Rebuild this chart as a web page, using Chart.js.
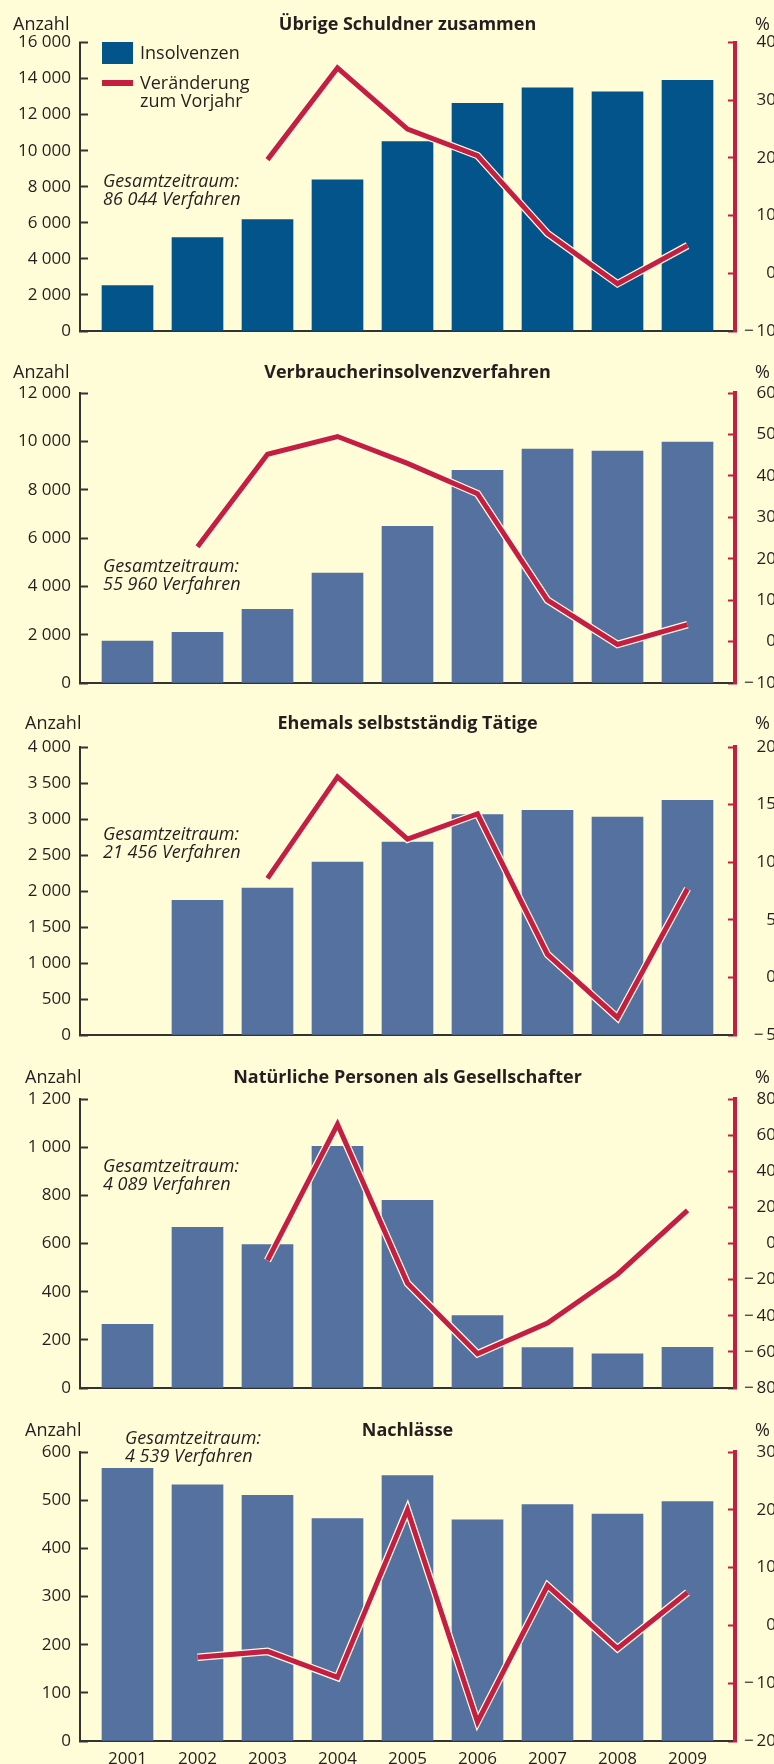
<!DOCTYPE html>
<html lang="de">
<head>
<meta charset="utf-8">
<title>Insolvenzen übriger Schuldner 2001–2009</title>
<script src="https://cdn.jsdelivr.net/npm/chart.js@4.4.1/dist/chart.umd.min.js"></script>
<style>
  html, body { margin: 0; padding: 0; overflow: hidden; background: #FFFCD8; }
  body { width: 774px; height: 1764px; position: relative; }
  canvas { position: absolute; left: 0; }
</style>
</head>
<body>
<canvas id="c1" style="top:0px" width="776" height="340"></canvas>
<canvas id="c2" style="top:340px" width="776" height="360"></canvas>
<canvas id="c3" style="top:700px" width="776" height="360"></canvas>
<canvas id="c4" style="top:1060px" width="776" height="360"></canvas>
<canvas id="c5" style="top:1420px" width="776" height="344"></canvas>
<script>
// Jahre
const years = [2001, 2002, 2003, 2004, 2005, 2006, 2007, 2008, 2009];

// Übrige Schuldner zusammen
const uebrigeAnzahl = [2520, 5180, 6180, 8390, 10500, 12630, 13480, 13260, 13900];
const uebrigeVeraenderung = [null, null, 19.7, 35.6, 25, 20.4, 6.9, -1.8, 4.8];

// Verbraucherinsolvenzverfahren
const verbraucherAnzahl = [1730, 2100, 3050, 4550, 6480, 8800, 9680, 9600, 9970];
const verbraucherVeraenderung = [null, 22.9, 45.2, 49.5, 43, 35.7, 10, -0.7, 4.1];

// Ehemals selbstständig Tätige
const ehemalsAnzahl = [null, 1870, 2040, 2400, 2680, 3060, 3120, 3025, 3260];
const ehemalsVeraenderung = [null, null, 8.6, 17.4, 12, 14.2, 2, -3.5, 7.7];

// Natürliche Personen als Gesellschafter
const gesellschafterAnzahl = [264, 667, 596, 1003, 779, 301, 168, 142, 169];
const gesellschafterVeraenderung = [null, null, -9.4, 66, -22, -61, -44, -17, 18.3];

// Nachlässe
const nachlaesseAnzahl = [566, 532, 510, 462, 551, 459, 491, 471, 497];
const nachlaesseVeraenderung = [null, -5.5, -4.5, -9, 20, -16.7, 6.9, -4, 5.7];

const TEXT = '#231F20';
const RED = '#C41E40';
const HALO = '#FFFDE6';
const DARK_BLUE = '#04548C';
const BLUE = '#5571A0';
const FONT = "'Open Sans', 'Noto Sans', sans-serif";

Chart.defaults.font.family = FONT;
Chart.defaults.font.size = 17;
Chart.defaults.color = TEXT;

function fmtThousands(v) {
  return String(v).replace(/\B(?=(\d{3})+(?!\d))/g, ' ');
}

function fmtPercent(v) {
  return v < 0 ? '\u2212\u2009' + Math.abs(v) : String(v);
}

function points(values) {
  return years.map((x, i) => ({ x: x, y: values[i] }));
}

// titles, axis captions, notes and legend
const overlay = {
  id: 'overlay',
  afterDraw(chart, args, o) {
    const ctx = chart.ctx;
    const area = chart.chartArea;
    ctx.save();
    ctx.fillStyle = TEXT;
    ctx.textBaseline = 'alphabetic';

    ctx.font = 'bold 18px ' + FONT;
    ctx.textAlign = 'center';
    ctx.fillText(o.title, (area.left + area.right) / 2, o.base);

    ctx.font = '18px ' + FONT;
    ctx.textAlign = 'left';
    ctx.fillText('Anzahl', o.anzahlX, o.base);
    ctx.fillText('%', 755, o.base);

    ctx.font = 'italic 18px ' + FONT;
    ctx.fillText('Gesamtzeitraum:', o.noteX, o.noteY);
    ctx.fillText(o.note, o.noteX, o.noteY + 18);

    if (o.legend) {
      const bar = chart.data.datasets[2];
      const line = chart.data.datasets[0];
      ctx.fillStyle = bar.backgroundColor;
      ctx.fillRect(102, 42, 31, 22);
      ctx.strokeStyle = line.borderColor;
      ctx.lineWidth = 6;
      ctx.beginPath();
      ctx.moveTo(102, 83);
      ctx.lineTo(133, 83);
      ctx.stroke();
      ctx.fillStyle = TEXT;
      ctx.font = '18px ' + FONT;
      ctx.fillText(bar.label, 140, 59);
      ctx.fillText('Veränderung', 140, 89);
      ctx.fillText('zum Vorjahr', 140, 107);
    }
    ctx.restore();
  }
};

function makePanel(p) {
  return new Chart(document.getElementById(p.id), {
    type: 'bar',
    data: {
      datasets: [
        {
          type: 'line',
          label: 'Veränderung zum Vorjahr',
          data: points(p.change),
          yAxisID: 'y1',
          borderColor: RED,
          borderWidth: 5,
          pointRadius: 0,
          tension: 0,
          borderJoinStyle: 'miter',
          borderCapStyle: 'butt',
          order: 1
        },
        {
          type: 'line',
          label: 'Rand',
          data: points(p.change),
          yAxisID: 'y1',
          borderColor: HALO,
          borderWidth: 7.5,
          pointRadius: 0,
          tension: 0,
          borderJoinStyle: 'miter',
          borderCapStyle: 'butt',
          order: 2
        },
        {
          type: 'bar',
          label: 'Insolvenzen',
          data: points(p.counts),
          yAxisID: 'y',
          backgroundColor: p.color,
          barThickness: 51,
          order: 3
        }
      ]
    },
    options: {
      responsive: false,
      animation: false,
      events: [],
      devicePixelRatio: 1,
      layout: { padding: { top: p.padTop, left: 0, right: 0, bottom: 0 } },
      plugins: {
        legend: { display: false },
        tooltip: { enabled: false },
        overlay: {
          title: p.title,
          base: p.base,
          anzahlX: p.anzahlX,
          note: p.note,
          noteX: p.noteX,
          noteY: p.noteY,
          legend: p.legend
        }
      },
      scales: {
        x: {
          type: 'linear',
          bounds: 'data',
          offset: false,
          min: 2000.3214,
          max: 2009.6786,
          z: 1,
          grid: { display: false, drawTicks: false, offset: false },
          border: { color: '#333333', width: 2 },
          ticks: {
            display: p.showYears,
            stepSize: 1,
            padding: 8,
            autoSkip: false,
            maxRotation: 0,
            font: { size: 17 },
            callback: v => String(v)
          },
          afterBuildTicks: s => { s.ticks = years.map(y => ({ value: y })); },
          afterFit: s => { s.height = p.xHeight; s.paddingLeft = 0; s.paddingRight = 0; }
        },
        y: {
          position: 'left',
          min: 0,
          max: p.yMax,
          z: 1,
          grid: { drawOnChartArea: false, tickLength: -8, tickColor: '#333333', tickWidth: 2 },
          border: { color: '#333333', width: 2 },
          ticks: { stepSize: p.yStep, padding: 17, callback: v => fmtThousands(v) },
          afterFit: s => { s.width = 80; s.paddingTop = 0; s.paddingBottom = 0; }
        },
        y1: {
          position: 'right',
          min: p.pMin,
          max: p.pMax,
          z: 1,
          grid: { drawOnChartArea: false, tickLength: -7, tickColor: RED, tickWidth: 2 },
          border: { color: RED, width: 4 },
          ticks: { stepSize: p.pStep, crossAlign: 'far', callback: v => fmtPercent(v) },
          afterFit: s => { s.width = 41; s.paddingTop = 0; s.paddingBottom = 0; }
        }
      }
    },
    plugins: [overlay]
  });
}

makePanel({
  id: 'c1', title: 'Übrige Schuldner zusammen',
  counts: uebrigeAnzahl, change: uebrigeVeraenderung, color: DARK_BLUE,
  yMax: 16000, yStep: 2000, pMin: -10, pMax: 40, pStep: 10,
  note: '86 044 Verfahren', noteX: 103, noteY: 187,
  base: 30, anzahlX: 13, padTop: 42.5, xHeight: 9, showYears: false, legend: true
});

makePanel({
  id: 'c2', title: 'Verbraucherinsolvenzverfahren',
  counts: verbraucherAnzahl, change: verbraucherVeraenderung, color: BLUE,
  yMax: 12000, yStep: 2000, pMin: -10, pMax: 60, pStep: 10,
  note: '55 960 Verfahren', noteX: 103, noteY: 232,
  base: 38, anzahlX: 13, padTop: 53, xHeight: 17, showYears: false, legend: false
});

makePanel({
  id: 'c3', title: 'Ehemals selbstständig Tätige',
  counts: ehemalsAnzahl, change: ehemalsVeraenderung, color: BLUE,
  yMax: 4000, yStep: 500, pMin: -5, pMax: 20, pStep: 5,
  note: '21 456 Verfahren', noteX: 103, noteY: 140,
  base: 29, anzahlX: 25, padTop: 47, xHeight: 25, showYears: false, legend: false
});

makePanel({
  id: 'c4', title: 'Natürliche Personen als Gesellschafter',
  counts: gesellschafterAnzahl, change: gesellschafterVeraenderung, color: BLUE,
  yMax: 1200, yStep: 200, pMin: -80, pMax: 80, pStep: 20,
  note: '4 089 Verfahren', noteX: 103, noteY: 112,
  base: 23, anzahlX: 25, padTop: 39, xHeight: 32, showYears: false, legend: false
});

makePanel({
  id: 'c5', title: 'Nachlässe',
  counts: nachlaesseAnzahl, change: nachlaesseVeraenderung, color: BLUE,
  yMax: 600, yStep: 100, pMin: -20, pMax: 30, pStep: 10,
  note: '4 539 Verfahren', noteX: 125, noteY: 24,
  base: 16, anzahlX: 25, padTop: 32, xHeight: 23, showYears: true, legend: false
});
</script>
</body>
</html>
